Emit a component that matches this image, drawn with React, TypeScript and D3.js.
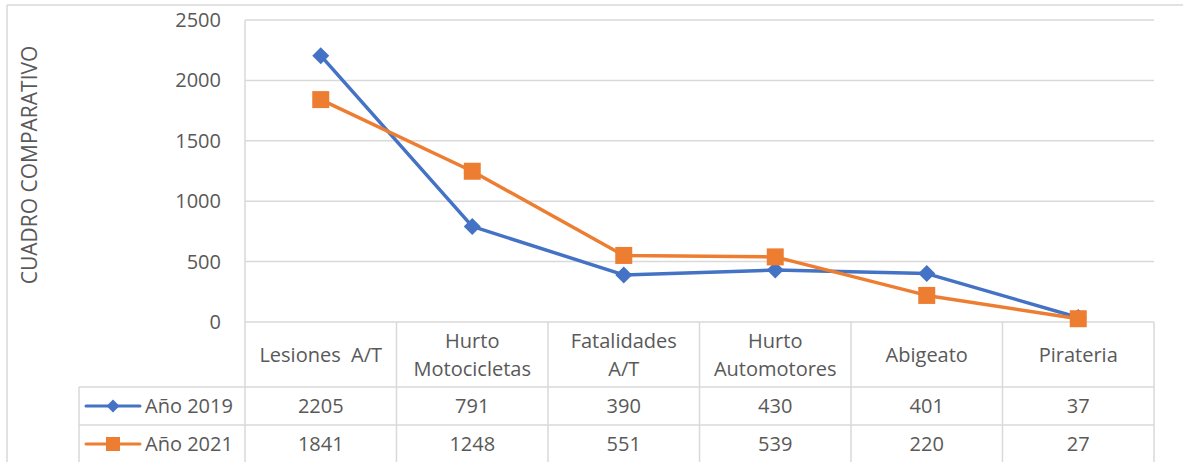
import React from "react";
import * as d3 from "d3";

const WIDTH = 1183;
const HEIGHT = 462;
const PLOT = { LEFT: 245, RIGHT: 1154, TOP: 20, BOTTOM: 322 };
const TABLE = { LEFT: 79, ROW1: 387, ROW2: 425, END: 463 };

const categories = ["Lesiones  A/T", "Hurto Motocicletas", "Fatalidades A/T", "Hurto Automotores", "Abigeato", "Pirateria"];
const categoryLines = [["Lesiones  A/T"], ["Hurto", "Motocicletas"], ["Fatalidades", "A/T"], ["Hurto", "Automotores"], ["Abigeato"], ["Pirateria"]];
const yTicks = [0, 500, 1000, 1500, 2000, 2500];
const values2019 = [2205, 791, 390, 430, 401, 37];
const values2021 = [1841, 1248, 551, 539, 220, 27];

const series = [
  { name: "Año 2019", values: values2019, color: "#4472C4", marker: "diamond" },
  { name: "Año 2021", values: values2021, color: "#ED7D31", marker: "square" },
];

const FONT = "'Open Sans', 'Noto Sans', sans-serif";
const TEXT = "#595959";
const GRID = "#D9D9D9";
const FS = 20;

function Marker({ type, x, y, size, color }: { type: string; x: number; y: number; size: number; color: string }) {
  if (type === "square") {
    return <rect x={x - size / 2} y={y - size / 2} width={size} height={size} fill={color} />;
  }
  const h = size / 2;
  return <path d={`M${x},${y - h}L${x + h},${y}L${x},${y + h}L${x - h},${y}Z`} fill={color} />;
}

export default function App() {
  const x = d3.scaleBand<string>().domain(categories).range([PLOT.LEFT, PLOT.RIGHT]);
  const y = d3.scaleLinear().domain([0, 2500]).range([PLOT.BOTTOM, PLOT.TOP]);
  const cx = (c: string) => (x(c) ?? 0) + x.bandwidth() / 2;
  const rowsY = [TABLE.ROW1, TABLE.ROW2];

  return (
    <svg width={WIDTH} height={HEIGHT} style={{ position: "absolute", left: 0, top: 0, background: "#fff" }} fontFamily={FONT}>
      {/* chart frame */}
      <line x1={7} x2={WIDTH} y1={5} y2={5} stroke={GRID} strokeWidth={1.5} />
      <line x1={7} x2={7} y1={5} y2={HEIGHT} stroke={GRID} strokeWidth={1.5} />

      {/* gridlines + y ticks */}
      {yTicks.map((t) => (
        <g key={t}>
          <line x1={PLOT.LEFT} x2={PLOT.RIGHT} y1={y(t)} y2={y(t)} stroke={GRID} strokeWidth={1.5} />
          <text x={221} y={y(t)} dy="0.35em" textAnchor="end" fontSize={FS} fill={TEXT}>{t}</text>
        </g>
      ))}

      <text transform={`translate(37,165) rotate(-90)`} textAnchor="middle" fontSize={21} fill={TEXT}>CUADRO COMPARATIVO</text>

      {/* data table grid */}
      <line x1={PLOT.LEFT} x2={PLOT.LEFT} y1={PLOT.TOP} y2={TABLE.END} stroke={GRID} strokeWidth={1.5} />
      {categories.map((c) => (
        <line key={c} x1={(x(c) ?? 0) + x.bandwidth()} x2={(x(c) ?? 0) + x.bandwidth()} y1={PLOT.BOTTOM} y2={TABLE.END} stroke={GRID} strokeWidth={1.5} />
      ))}
      <line x1={TABLE.LEFT} x2={TABLE.LEFT} y1={TABLE.ROW1} y2={TABLE.END} stroke={GRID} strokeWidth={1.5} />
      {rowsY.map((r) => (
        <line key={r} x1={TABLE.LEFT} x2={PLOT.RIGHT} y1={r} y2={r} stroke={GRID} strokeWidth={1.5} />
      ))}

      {/* category labels */}
      {categories.map((c, i) => {
        const lines = categoryLines[i];
        const mid = (PLOT.BOTTOM + TABLE.ROW1) / 2;
        return (
          <text key={c} x={cx(c)} textAnchor="middle" fontSize={FS} fill={TEXT} style={{ whiteSpace: "pre" }}>
            {lines.map((l, j) => (
              <tspan key={j} x={cx(c)} y={mid + (j - (lines.length - 1) / 2) * 28} dy="0.35em">{l}</tspan>
            ))}
          </text>
        );
      })}

      {/* table rows */}
      {series.map((s, si) => {
        const top = rowsY[si];
        const mid = top + 19;
        return (
          <g key={s.name}>
            <line x1={86} x2={140} y1={mid} y2={mid} stroke={s.color} strokeWidth={3} strokeLinecap="round" />
            <Marker type={s.marker} x={113} y={mid} size={s.marker === "square" ? 14 : 13} color={s.color} />
            <text x={145} y={mid} dy="0.35em" fontSize={FS} fill={TEXT}>{s.name}</text>
            {categories.map((c, i) => (
              <text key={c} x={cx(c)} y={mid} dy="0.35em" textAnchor="middle" fontSize={FS} fill={TEXT}>{s.values[i]}</text>
            ))}
          </g>
        );
      })}

      {/* lines */}
      {series.map((s) => {
        const line = d3.line<number>().x((_, i) => cx(categories[i])).y((v) => y(v));
        return (
          <g key={s.name}>
            <path d={line(s.values) ?? ""} fill="none" stroke={s.color} strokeWidth={3.5} strokeLinejoin="round" />
            {s.values.map((v, i) => (
              <Marker key={i} type={s.marker} x={cx(categories[i])} y={y(v)} size={17} color={s.color} />
            ))}
          </g>
        );
      })}
    </svg>
  );
}
